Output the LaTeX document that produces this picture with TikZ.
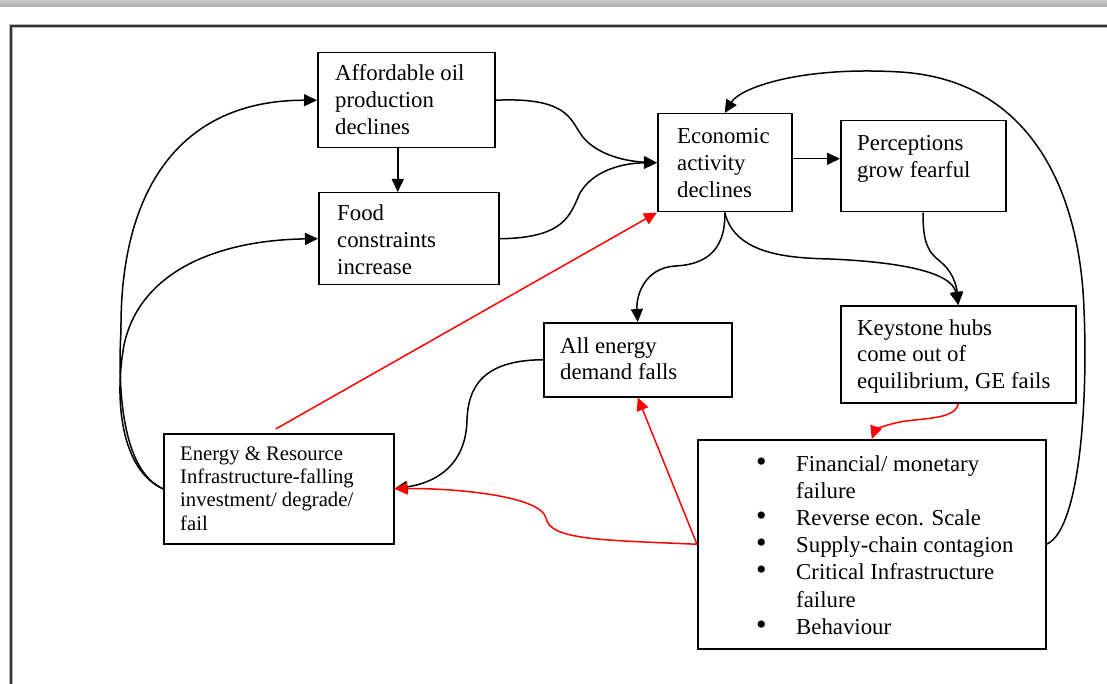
\documentclass[tikz,border=0pt]{standalone}
\usepackage{fontspec}
\setmainfont{Liberation Serif}
\usetikzlibrary{arrows.meta,calc}
\definecolor{frameC}{RGB}{50,50,50}
\definecolor{haloC}{RGB}{185,185,185}
\newcommand{\blt}{\makebox[40pt][l]{\fontsize{30}{30}\selectfont\textbullet}}
\begin{document}
\begin{tikzpicture}[x=1pt,y=-1pt,
  box/.style={draw=black,line width=1.5pt,anchor=north west,inner sep=0pt},
  txt/.style={anchor=base west,inner sep=0pt,font=\fontsize{22.8}{26.8}\selectfont},
  stxt/.style={anchor=base west,inner sep=0pt,font=\fontsize{20.7}{23.4}\selectfont},
  btxt/.style={anchor=base west,inner sep=0pt,font=\fontsize{22.8}{27.2}\selectfont},
  arr/.style={draw=black,line width=1.5pt,-{Triangle[length=13pt,width=12pt]}},
  rarr/.style={draw=red,line width=1.5pt,-{Triangle[length=13pt,width=12pt]}}]
\useasboundingbox (0,0) rectangle (1107,684);
\clip (0,0) rectangle (1107,684);
\fill[white] (0,0) rectangle (1107,684);
\shade[top color={rgb,255:red,200;green,200;blue,200},bottom color={rgb,255:red,172;green,172;blue,172}] (0,0) rectangle (1107,7);
\draw[haloC,line width=4.5pt] (11,700) -- (11,26) -- (1120,26);
\draw[frameC,line width=2.2pt] (11,700) -- (11,26) -- (1120,26);

% boxes
\node[box,minimum width=177pt,minimum height=95pt] (oil) at (317,52) {};
\node[box,minimum width=180pt,minimum height=92pt] (food) at (318,192) {};
\node[box,minimum width=134pt,minimum height=98pt] (econ) at (657,113) {};
\node[box,minimum width=165pt,minimum height=91pt] (perc) at (840,120) {};
\node[box,minimum width=235pt,minimum height=97pt] (key) at (840,305) {};
\node[box,minimum width=348pt,minimum height=209pt] (bul) at (697,439) {};
\node[box,minimum width=188pt,minimum height=74pt] (all) at (543,322) {};
\node[box,minimum width=230pt,minimum height=110pt] (energy) at (163,433) {};

% texts
\node[txt] (oilt) at (335,81) {\begin{tabular}[t]{@{}l@{}}Affordable oil\\production\\declines\end{tabular}};
\node[txt] (foodt) at (337,221) {\begin{tabular}[t]{@{}l@{}}Food\\constraints\\increase\end{tabular}};
\node[txt] (econt) at (677,144) {\begin{tabular}[t]{@{}l@{}}Economic\\activity\\declines\end{tabular}};
\node[txt] (perct) at (857,151) {\begin{tabular}[t]{@{}l@{}}Perceptions\\grow fearful\end{tabular}};
\node[txt] (keyt) at (857,335) {\begin{tabular}[t]{@{}l@{}}Keystone hubs\\come out of\\equilibrium, GE fails\end{tabular}};
\node[txt] (allt) at (560,353) {\begin{tabular}[t]{@{}l@{}}All energy\\demand falls\end{tabular}};
\node[stxt] (energyt) at (180,460) {\begin{tabular}[t]{@{}l@{}}Energy \& Resource\\Infrastructure-falling\\investment/ degrade/\\fail\end{tabular}};
\node[btxt] (bult) at (756,471) {\begin{tabular}[t]{@{}l@{}l@{}}
\blt & Financial/ monetary\\
 & failure\\
\blt & Reverse econ. Scale\\
\blt & Supply-chain contagion\\
\blt & Critical Infrastructure\\
 & failure\\
\blt & Behaviour
\end{tabular}};

% black connectors
\coordinate (ofx) at ($(oil.south)+(-8.5,0)$);
\draw[arr] (ofx) -- (ofx |- food.north);
\draw[arr] (oil.east) .. controls (565,97) and (570,118) .. (580,133) .. controls (592,152) and (620,161) .. (econ.west);
\draw[arr] (food.east) .. controls (565,238) and (570,215) .. (580,193) .. controls (592,172) and (620,163) .. (econ.west);
\coordinate (ep) at ($(econ.east)+(0,-4)$);
\draw[arr] (ep) -- (ep -| perc.west);
\draw[arr] (econ.south) .. controls (726,255) and (700,265) .. (675,266) .. controls (645,268) and (636,295) .. (all.north);
\draw[arr] (econ.south) .. controls (735,255) and (790,258) .. (830,259) .. controls (900,262) and (952,272) .. (key.north);
\draw[arr] (perc.south) .. controls (922,250) and (933,255) .. (943,264) .. controls (955,275) and (957,290) .. (key.north);
\draw[arr] (bul.east) .. controls (1080,530) and (1088,400) .. (1084,310) .. controls (1080,190) and (1030,80) .. (900,72) .. controls (800,66) and (740,88) .. (econ.north);
\draw[arr] (all.west) .. controls (480,360) and (468,390) .. (467,420) .. controls (466,462) and (440,482) .. (energy.east);
\draw[arr] (energy.west) .. controls (125,472) and (117,400) .. (121,330) .. controls (120,190) and (180,100) .. (oil.west);
\draw[arr] (energy.west) .. controls (121,470) and (114,400) .. (124,345) .. controls (140,270) and (220,240) .. (food.west);

% red connectors
\draw[rarr] ($(energy.north)+(-3,-4)$) -- (econ.south west);
\draw[rarr] (key.south) .. controls (956,420) and (920,418) .. (900,422) .. controls (885,425) and (875,430) .. (bul.north);
\draw[rarr] (bul.west) -- (all.south);
\draw[rarr] (bul.west) .. controls (600,540) and (550,540) .. (546,518) .. controls (540,495) and (450,488) .. (energy.east);
\end{tikzpicture}
\end{document}
